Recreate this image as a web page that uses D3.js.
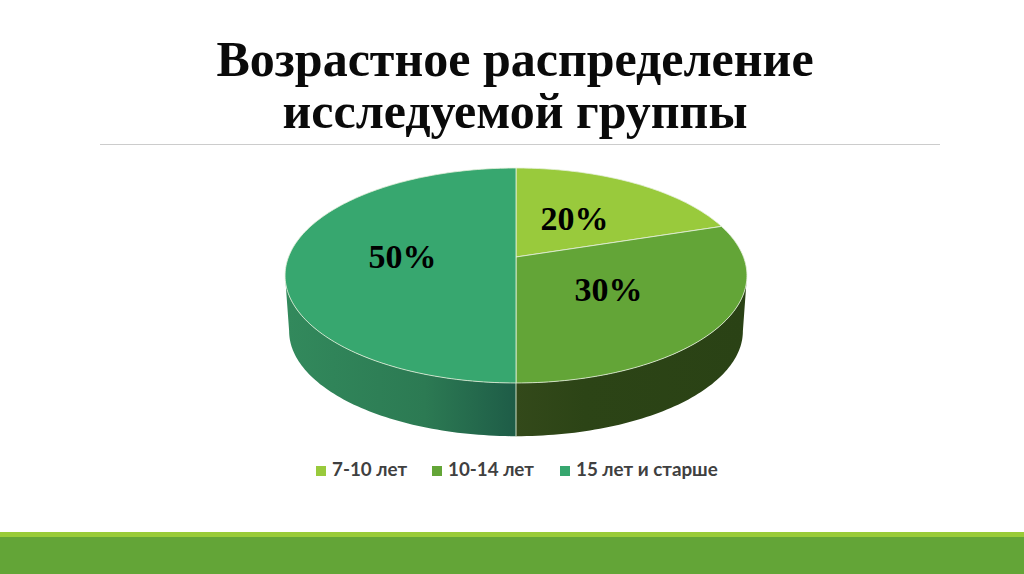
<!DOCTYPE html>
<html lang="ru">
<head>
<meta charset="utf-8">
<title>Возрастное распределение</title>
<script src="https://cdn.jsdelivr.net/npm/d3@7"></script>
<style>
  html, body { margin: 0; padding: 0; background: #fff; }
  svg { display: block; }
</style>
</head>
<body>
<div id="chart"></div>
<script>
// Chart data
const categories = ["7-10 лет", "10-14 лет", "15 лет и старше"];
const shares = [20, 30, 50];
const shareLabels = ["20%", "30%", "50%"];
const sliceColors = ["#99ca3c", "#63a537", "#37a76f"];
const titleLines = ["Возрастное распределение", "исследуемой группы"];

const width = 1024;
const height = 574;

const svg = d3.select("#chart").append("svg")
  .attr("width", width)
  .attr("height", height)
  .attr("viewBox", [0, 0, width, height]);

const defs = svg.append("defs");

// Side wall shading, one gradient per visible slice
const addGradient = (id, x1, x2, stops) => {
  const grad = defs.append("linearGradient")
    .attr("id", id)
    .attr("gradientUnits", "userSpaceOnUse")
    .attr("x1", x1).attr("x2", x2)
    .attr("y1", 0).attr("y2", 0);
  stops.forEach(([offset, color]) => {
    grad.append("stop").attr("offset", offset).attr("stop-color", color);
  });
};
addGradient("side-left", 288, 516, [[0, "#32895c"], [0.6, "#2c7a53"], [1, "#1e5c47"]]);
addGradient("side-right", 516, 745, [[0, "#33491a"], [0.3, "#2c4416"], [1, "#2a4215"]]);

const color = d3.scaleOrdinal().domain(categories).range(sliceColors);

// Title
svg.append("g")
  .selectAll("text")
  .data(titleLines)
  .join("text")
  .attr("x", 515)
  .attr("y", (d, i) => 76 + i * 52)
  .attr("text-anchor", "middle")
  .attr("font-family", "'Liberation Serif', serif")
  .attr("font-weight", "bold")
  .attr("font-size", 50)
  .attr("fill", "#0a0a0a")
  .text((d) => d);

svg.append("line")
  .attr("x1", 100).attr("x2", 940)
  .attr("y1", 144.5).attr("y2", 144.5)
  .attr("stroke", "#cccccc")
  .attr("stroke-width", 1);

// Perspective projection of a disc: the back half looks shorter than the front
const tilt = 0.172;
const project = (rim) => (theta) => {
  const u = Math.sin(theta);
  const v = -Math.cos(theta);
  const d = 1 - tilt * v;
  return [rim.cx + (rim.rx * u) / d, rim.cy + (rim.ry * v) / d];
};
const topRim = project({ cx: 516, cy: 257, rx: 227.5, ry: 104.3 });
const bottomRim = project({ cx: 516, cy: 313, rx: 223.5, ry: 102 });

const sampleAngles = (a0, a1) => {
  const n = Math.max(2, Math.ceil((a1 - a0) / 0.02));
  return d3.range(n + 1).map((i) => a0 + ((a1 - a0) * i) / n);
};
const line = d3.line();

const pie = d3.pie().sort(null).value((d) => d.value);
const slices = pie(categories.map((name, i) => ({ name, value: shares[i], label: shareLabels[i] })));

// Only the part of the rim between the two silhouette points faces the viewer
const rimStart = Math.acos(-tilt);
const rimEnd = 2 * Math.PI - rimStart;

const sideFill = { [categories[1]]: "url(#side-right)", [categories[2]]: "url(#side-left)" };

const sides = slices
  .map((s) => ({ ...s, a0: Math.max(s.startAngle, rimStart), a1: Math.min(s.endAngle, rimEnd) }))
  .filter((s) => s.a1 > s.a0);

svg.append("g")
  .selectAll("path")
  .data(sides)
  .join("path")
  .attr("d", (d) => {
    const angles = sampleAngles(d.a0, d.a1);
    return line([...angles.map(topRim), ...angles.reverse().map(bottomRim)]) + "Z";
  })
  .attr("fill", (d) => sideFill[d.data.name]);

// Pale seam where the two side walls meet
svg.append("path")
  .attr("d", line([topRim(Math.PI), bottomRim(Math.PI)]))
  .attr("stroke", "#cfe0c8")
  .attr("stroke-width", 1)
  .attr("fill", "none");

// Top face
const center = [topRim(0)[0], 257];
svg.append("g")
  .selectAll("path")
  .data(slices)
  .join("path")
  .attr("d", (d) => line([center, ...sampleAngles(d.startAngle, d.endAngle).map(topRim)]) + "Z")
  .attr("fill", (d) => color(d.data.name))
  .attr("stroke", "#e6f0dc")
  .attr("stroke-width", 0.8)
  .attr("stroke-linejoin", "round");

// Value labels
const labelSpots = [[574.5, 230], [608.5, 301], [402.5, 268]];
svg.append("g")
  .selectAll("text")
  .data(slices)
  .join("text")
  .attr("x", (d, i) => labelSpots[i][0])
  .attr("y", (d, i) => labelSpots[i][1])
  .attr("text-anchor", "middle")
  .attr("font-family", "'Liberation Serif', serif")
  .attr("font-weight", "bold")
  .attr("font-size", 34)
  .attr("fill", "#000")
  .text((d) => d.data.label);

// Legend
const legendX = [316, 432, 560];
const legend = svg.append("g")
  .selectAll("g")
  .data(categories)
  .join("g")
  .attr("transform", (d, i) => `translate(${legendX[i]},0)`);

legend.append("rect")
  .attr("y", 466)
  .attr("width", 10)
  .attr("height", 10)
  .attr("fill", (d) => color(d));

legend.append("text")
  .attr("x", 16)
  .attr("y", 476)
  .attr("font-family", "Lato, 'Open Sans', sans-serif")
  .attr("font-weight", 700)
  .attr("font-size", 18.8)
  .attr("fill", "#404040")
  .text((d) => d);

// Slide footer bands
svg.append("rect").attr("x", 0).attr("y", 532).attr("width", width).attr("height", 6).attr("fill", "#99cb38");
svg.append("rect").attr("x", 0).attr("y", 537).attr("width", width).attr("height", 37).attr("fill", "#63a537");
</script>
</body>
</html>
